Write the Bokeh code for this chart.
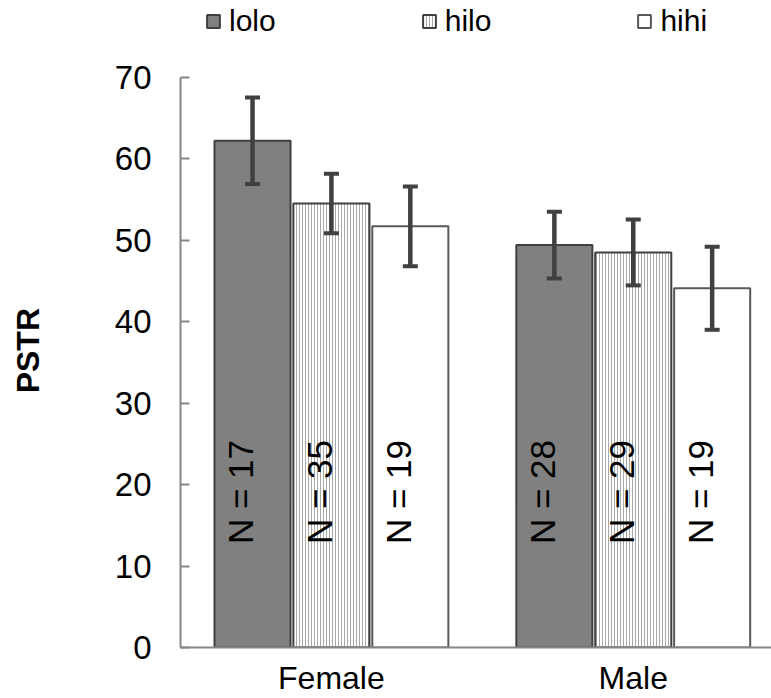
import math
from bokeh.plotting import figure
from bokeh.models import (ColumnDataSource, Whisker, TeeHead, FixedTicker, Legend, LegendItem)
from bokeh.core.properties import value
from bokeh.embed import file_html
from bokeh.resources import INLINE

# ---- data ----
categories = ["Female", "Male"]
series = ["lolo", "hilo", "hihi"]
lolo_mean = [62.2, 49.4]
hilo_mean = [54.5, 48.5]
hihi_mean = [51.7, 44.1]
lolo_err = [5.3, 4.1]
hilo_err = [3.65, 4.05]
hihi_err = [4.9, 5.1]
lolo_n = [17, 28]
hilo_n = [35, 29]
hihi_n = [19, 19]
y_ticks = [0, 10, 20, 30, 40, 50, 60, 70]
y_title = "PSTR"

FONT = "Liberation Sans"
offsets = {"lolo": -0.2614, "hilo": 0.0, "hihi": 0.2614}
bar_w = 0.252
label_dx = -0.04
label_y = 12.7

# frame spans the full height so the legend can sit above the axis top (70)
p = figure(width=771, height=698, output_backend="svg", toolbar_location=None,
           x_range=(-0.5, 1.458), y_range=(0, 79.42),
           min_border_left=180, min_border_right=0, min_border_top=0, min_border_bottom=49)
p.outline_line_color = None
p.xgrid.visible = False
p.ygrid.visible = False
p.background_fill_color = "white"
p.border_fill_color = "white"

# axes
p.yaxis.ticker = FixedTicker(ticks=y_ticks)
p.yaxis.bounds = (0, 70)
p.yaxis.major_tick_in = 9
p.yaxis.major_tick_out = 0
p.yaxis.minor_tick_line_color = None
p.yaxis.axis_line_color = "#868686"
p.yaxis.axis_line_width = 2
p.yaxis.major_tick_line_color = "#868686"
p.yaxis.major_tick_line_width = 2
p.yaxis.major_label_text_font = FONT
p.yaxis.major_label_text_font_size = "33px"
p.yaxis.major_label_text_color = "black"
p.yaxis.major_label_standoff = 29
# trailing non-breaking spaces shift the centred title down to the middle of the 0-70 span
p.yaxis.axis_label = y_title + "\u00a0" * 6
p.yaxis.axis_label_text_font = FONT
p.yaxis.axis_label_text_font_size = "32px"
p.yaxis.axis_label_text_font_style = "bold"
p.yaxis.axis_label_text_color = "black"
p.yaxis.axis_label_standoff = 66

p.xaxis.ticker = FixedTicker(ticks=[0, 1])
p.xaxis.major_label_overrides = {0: categories[0], 1: categories[1]}
p.xaxis.major_tick_line_color = None
p.xaxis.minor_tick_line_color = None
p.xaxis.major_tick_in = 0
p.xaxis.major_tick_out = 0
p.xaxis.axis_line_color = "#868686"
p.xaxis.axis_line_width = 2
p.xaxis.major_label_text_font = FONT
p.xaxis.major_label_text_font_size = "32px"
p.xaxis.major_label_text_color = "black"
p.xaxis.major_label_standoff = 12

means = {"lolo": lolo_mean, "hilo": hilo_mean, "hihi": hihi_mean}
errs = {"lolo": lolo_err, "hilo": hilo_err, "hihi": hihi_err}
ns = {"lolo": lolo_n, "hilo": hilo_n, "hihi": hihi_n}
styles = {
    "lolo": dict(fill_color="#808080", line_color="#404040"),
    "hilo": dict(fill_color="white", line_color="#404040", hatch_pattern="vertical_line",
                 hatch_color="#a8a8a8", hatch_scale=3, hatch_weight=1),
    "hihi": dict(fill_color="white", line_color="#595959"),
}

renderers = {}
for s in series:
    xs = [i + offsets[s] for i in range(len(categories))]
    src = ColumnDataSource(dict(
        x=xs, top=means[s],
        upper=[m + e for m, e in zip(means[s], errs[s])],
        lower=[m - e for m, e in zip(means[s], errs[s])],
        label=["N = %d" % n for n in ns[s]],
        lx=[x + label_dx for x in xs],
        ly=[label_y] * len(xs),
    ))
    r = p.vbar(x="x", top="top", width=bar_w, bottom=0, source=src, line_width=2, **styles[s])
    renderers[s] = r
    p.text(x="lx", y="ly", text="label", source=src, angle=math.pi / 2,
           text_font=value(FONT), text_font_size="35px", text_color="black",
           text_align="left", text_baseline="middle")
    w = Whisker(base="x", upper="upper", lower="lower", source=src, dimension="height",
                line_color="#404040", line_width=4.5, level="overlay",
                upper_head=TeeHead(size=15, line_color="#404040", line_width=4),
                lower_head=TeeHead(size=15, line_color="#404040", line_width=4))
    p.add_layout(w)

legend = Legend(items=[LegendItem(label=s, renderers=[renderers[s]]) for s in series],
                location=(25, 609), orientation="horizontal",
                glyph_width=16, glyph_height=16, label_standoff=8, spacing=145,
                padding=0, margin=0, border_line_color=None, background_fill_alpha=0,
                label_text_font=FONT, label_text_font_size="30px", label_text_color="black")
p.add_layout(legend, "center")

open("out.html", "w").write(file_html(p, INLINE))
